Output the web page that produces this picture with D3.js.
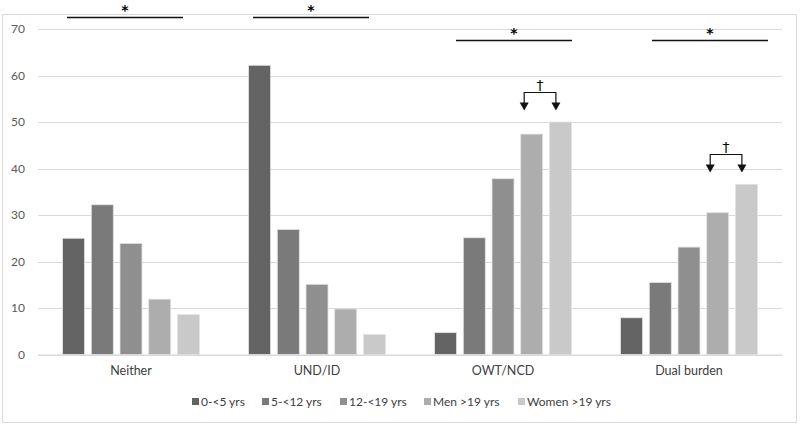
<!DOCTYPE html>
<html><head><meta charset="utf-8">
<script src="https://cdn.jsdelivr.net/npm/d3@7"></script>
<style>body{margin:0;background:#fff}svg{display:block}text{font-family:Lato,"Open Sans",sans-serif}</style>
</head><body><svg id="c" width="800" height="425"></svg>
<script>
const categories = ["Neither", "UND/ID", "OWT/NCD", "Dual burden"];
const seriesNames = ["0-<5 yrs", "5-<12 yrs", "12-<19 yrs", "Men >19 yrs", "Women >19 yrs"];
const s0to5 = [25.0, 62.2, 4.7, 7.9];
const s5to12 = [32.2, 26.9, 25.1, 15.5];
const s12to19 = [23.9, 15.1, 37.8, 23.1];
const sMen = [11.9, 9.8, 47.4, 30.5];
const sWomen = [8.6, 4.3, 50.0, 36.6];
const yTicks = [0, 10, 20, 30, 40, 50, 60, 70];
const colors = ["#646464", "#7a7a7a", "#8f8f8f", "#adadad", "#c9c9c9"];
const series = [s0to5, s5to12, s12to19, sMen, sWomen];
// significance annotations: star lines above each group; daggers link Men/Women
const starLevels = [72.6, 72.6, 67.6, 67.6];
const daggerGroups = ["OWT/NCD", "Dual burden"];
const daggerLevels = [56.45, 43.1];

const svg = d3.select("#c");
const W = 800, H = 425;
const m = {left: 38, right: 18, top: 29, bottom: 70.5};
const starLineStart = [29, 29, 46, 56]; // offset within group band (layout)
const starLineLen = 116;

svg.append("rect").attr("x", 2.5).attr("y", 14.5).attr("width", 794).attr("height", 408)
  .attr("fill", "#fff").attr("stroke", "#d9d9d9");

const x0 = d3.scaleBand().domain(categories).range([m.left, W - m.right]).paddingInner(0).paddingOuter(0);
const x1 = d3.scaleBand().domain(seriesNames).range([0, x0.bandwidth()]).paddingInner(0.233).paddingOuter(0.857);
const y = d3.scaleLinear().domain([0, 70]).range([H - m.bottom, m.top]);

// gridlines
svg.append("g").selectAll("line").data(yTicks).join("line")
  .attr("x1", m.left).attr("x2", W - m.right)
  .attr("y1", d => Math.round(y(d)) + 0.5).attr("y2", d => Math.round(y(d)) + 0.5)
  .attr("stroke", "#d9d9d9").attr("stroke-width", 1);

// y axis labels
const yAxis = d3.axisLeft(y).tickValues(yTicks).tickSize(0).tickPadding(13);
const ga = svg.append("g").attr("transform", `translate(${m.left},0)`).call(yAxis);
ga.select(".domain").remove();
ga.selectAll("text").attr("font-size", 12).attr("fill", "#595959").style("font-family", "Lato, sans-serif");

// bars
const rows = categories.map((c, i) => ({c, vals: series.map((s, j) => ({k: seriesNames[j], v: s[i], j}))}));
const g = svg.append("g").selectAll("g").data(rows).join("g")
  .attr("transform", d => `translate(${x0(d.c)},0)`);
g.selectAll("rect").data(d => d.vals).join("rect")
  .attr("x", d => x1(d.k)).attr("width", x1.bandwidth())
  .attr("y", d => y(d.v)).attr("height", d => y(0) - y(d.v))
  .attr("fill", d => colors[d.j]).attr("stroke", "#e3e3e3").attr("stroke-width", 0.8);

// x axis labels
const xAxis = d3.axisBottom(x0).tickSize(0).tickPadding(12);
const gx = svg.append("g").attr("transform", `translate(0,${y(0)})`).call(xAxis);
gx.select(".domain").attr("stroke", "#d9d9d9");
gx.selectAll("text").attr("font-size", 12.5).attr("fill", "#404040").style("font-family", "Lato, sans-serif");

// star annotations
categories.forEach((c, i) => {
  const lx1 = x0(c) + starLineStart[i];
  const lx2 = lx1 + starLineLen;
  const ly = Math.round(y(starLevels[i])) + 0.5;
  svg.append("line").attr("x1", lx1).attr("x2", lx2).attr("y1", ly).attr("y2", ly)
    .attr("stroke", "#111").attr("stroke-width", 1.6);
  svg.append("text").attr("x", (lx1 + lx2) / 2).attr("y", ly - 3).attr("text-anchor", "middle")
    .attr("font-size", 14).attr("font-weight", "bold").attr("fill", "#000")
    .style("font-family", "DejaVu Sans, sans-serif").text("*");
});

// dagger annotations
daggerGroups.forEach((c, i) => {
  const ax = x0(c) + x1(seriesNames[3]) + 3.5;
  const bx = x0(c) + x1(seriesNames[4]) + 6.5;
  const top = Math.round(y(daggerLevels[i])) + 0.5;
  const tip = top + 18;
  svg.append("rect").attr("x", (ax + bx) / 2 - 6).attr("y", top - 14).attr("width", 12).attr("height", 12).attr("fill", "#fff");
  svg.append("path").attr("d", `M${ax},${tip - 7}V${top}H${bx}V${tip - 7}`)
    .attr("fill", "none").attr("stroke", "#111").attr("stroke-width", 1.2);
  [ax, bx].forEach(px => {
    svg.append("path").attr("d", `M${px - 4.5},${tip - 8}L${px + 4.5},${tip - 8}L${px},${tip}Z`).attr("fill", "#111");
  });
  svg.append("text").attr("x", (ax + bx) / 2).attr("y", top - 3).attr("text-anchor", "middle")
    .attr("font-size", 14).attr("fill", "#000").style("font-family", "DejaVu Sans, sans-serif").text("†");
});

// legend
const legX = [192, 262, 340, 424, 518];
const lg = svg.append("g").selectAll("g").data(seriesNames).join("g")
  .attr("transform", (d, i) => `translate(${legX[i]},402)`);
lg.append("rect").attr("x", 0).attr("y", -4).attr("width", 7).attr("height", 7).attr("fill", (d, i) => colors[i]);
lg.append("text").attr("x", 9).attr("y", 0).attr("dy", "0.35em").attr("font-size", 12).attr("fill", "#404040").text(d => d);
</script></body></html>
